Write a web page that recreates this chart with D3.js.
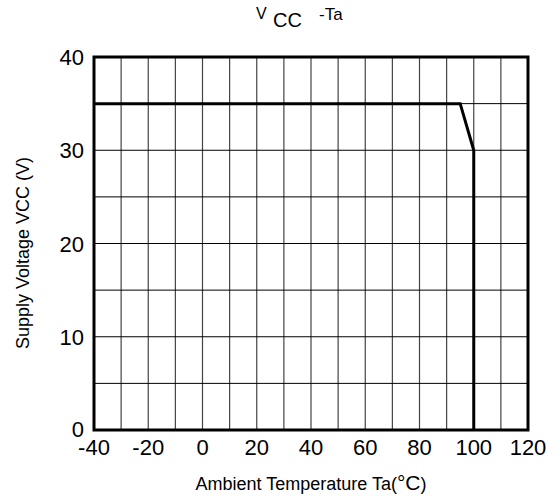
<!DOCTYPE html>
<html><head><meta charset="utf-8">
<script src="https://cdn.jsdelivr.net/npm/d3@7"></script>
<style>body{margin:0;background:#fff}svg{display:block}text{font-family:"Liberation Sans",Arial,sans-serif;fill:#000}</style>
</head><body>
<script>
const xTicks = [-40,-20,0,20,40,60,80,100,120];
const yTicks = [0,10,20,30,40];
const xGrid = [-30,-20,-10,0,10,20,30,40,50,60,70,80,90,100,110];
const yGrid = [5,10,15,20,25,30,35];
const curveTa = [-40,95,100,100];
const curveVcc = [35,35,30,0];

const W=560,H=499;
const svg=d3.select("body").append("svg").attr("width",W).attr("height",H);
const x=d3.scaleLinear().domain([-40,120]).range([94,528]);
const y=d3.scaleLinear().domain([0,40]).range([430,57]);

svg.selectAll(".vg").data(xGrid).enter().append("line")
  .attr("x1",d=>x(d)).attr("x2",d=>x(d)).attr("y1",y(0)).attr("y2",y(40))
  .attr("stroke","#444").attr("stroke-width",1.2);
svg.selectAll(".hg").data(yGrid).enter().append("line")
  .attr("y1",d=>y(d)).attr("y2",d=>y(d)).attr("x1",x(-40)).attr("x2",x(120))
  .attr("stroke","#000").attr("stroke-width",1);

const pts=curveTa.map((t,i)=>[x(t),y(curveVcc[i])]);
svg.append("path").attr("d",d3.line()(pts)).attr("fill","none")
  .attr("stroke","#000").attr("stroke-width",3);

svg.append("rect").attr("x",x(-40)).attr("y",y(40)).attr("width",x(120)-x(-40)).attr("height",y(0)-y(40))
  .attr("fill","none").attr("stroke","#000").attr("stroke-width",3);

svg.selectAll(".yl").data(yTicks).enter().append("text")
  .attr("x",84).attr("y",d=>y(d)+ (d===0?7:8)).attr("text-anchor","end")
  .attr("font-size",22).text(d=>d);
svg.selectAll(".xl").data(xTicks).enter().append("text")
  .attr("x",d=>x(d)).attr("y",455).attr("text-anchor","middle")
  .attr("font-size",22).text(d=>d);

svg.append("text").attr("x",256).attr("y",19).attr("font-size",16).text("V");
svg.append("text").attr("x",273).attr("y",27).attr("font-size",20).text("CC");
svg.append("text").attr("x",319).attr("y",20).attr("font-size",17).text("-Ta");

const xl=svg.append("text").attr("x",311).attr("y",490).attr("text-anchor","middle").attr("font-size",18);
xl.append("tspan").text("Ambient Temperature Ta(");
xl.append("tspan").attr("font-size",21).text("°C");
xl.append("tspan").text(")");

svg.append("text").attr("transform","translate(29,253) rotate(-90)").attr("text-anchor","middle")
  .attr("font-size",18).text("Supply Voltage VCC (V)");
</script>
</body></html>
